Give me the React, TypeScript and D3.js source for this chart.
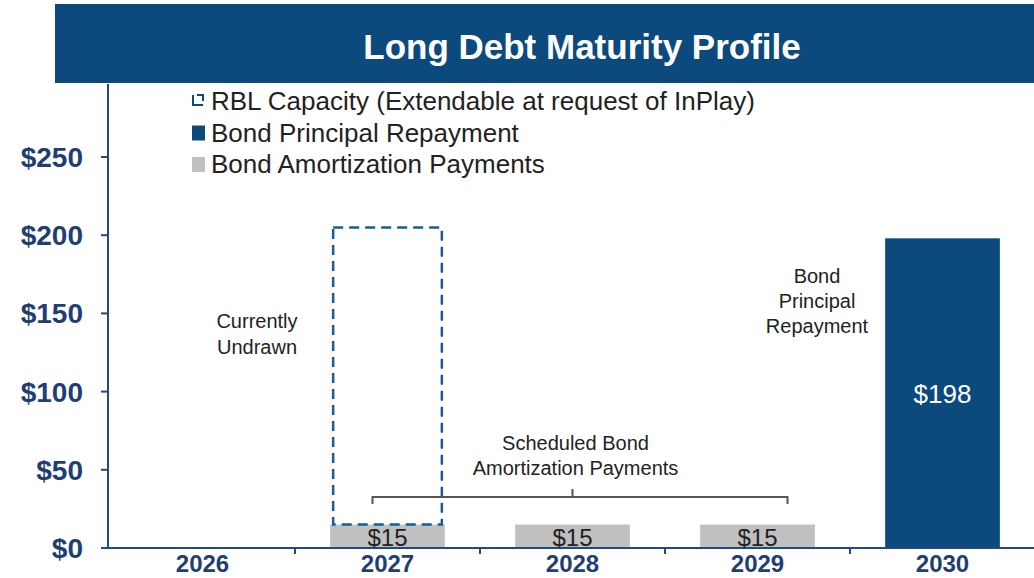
import * as d3 from "d3";

const years = ["2026", "2027", "2028", "2029", "2030"];
const amortization = [0, 15, 15, 15, 0];
const principal = [0, 0, 0, 0, 198];
const rblCapacity = [0, 190, 0, 0, 0];
const yTicks = [0, 50, 100, 150, 200, 250];
const legendItems = [
  "RBL Capacity (Extendable at request of InPlay)",
  "Bond Principal Repayment",
  "Bond Amortization Payments",
];

const W = 1034;
const H = 578;
const NAVY = "#0c4a7d";
const AXIS = "#24497f";
const GRAY = "#c0c0c0";
const FONT = "'Liberation Sans', Arial, sans-serif";

export default function App() {
  const x = d3.scaleBand<string>().domain(years).range([110, 1035])
    .paddingInner(0.38).paddingOuter(0.19);
  const y = d3.scaleLinear().domain([0, 250]).range([548, 157]);
  const bw = x.bandwidth();
  const cx = (yr: string) => (x(yr) as number) + bw / 2;
  const step = x.step();

  // bracket over the amortization years
  const bl = cx("2027") - 15;
  const br = cx("2029") + 30;
  const by = 497;
  const bm = cx("2028");

  return (
    <svg width={W} height={H} style={{ position: "absolute", left: 0, top: 0, background: "#fff" }}>
      {/* title bar */}
      <rect x={55} y={4} width={W - 55} height={79} fill={NAVY} />
      <text x={582} y={59} textAnchor="middle" fill="#fff" fontFamily={FONT}
        fontWeight="bold" fontSize={35}>Long Debt Maturity Profile</text>

      {/* legend */}
      {legendItems.map((t, i) => {
        const ly = 101 + i * 31.5;
        return (
          <g key={t}>
            {i === 0 ? (
              <path d={`M193,${ly - 6} V${ly + 4} H203 M197,${ly - 6} H203 V${ly}`}
                fill="none" stroke={NAVY} strokeWidth={2} />
            ) : (
              <rect x={192} y={ly - 7} width={13} height={15} fill={i === 1 ? NAVY : GRAY} />
            )}
            <text x={211} y={ly + 9} fontFamily={FONT} fontSize={26} fill="#222">{t}</text>
          </g>
        );
      })}

      {/* y axis */}
      <line x1={108} x2={108} y1={84} y2={549} stroke={AXIS} strokeWidth={2} />
      {yTicks.map((v) => (
        <g key={v}>
          <line x1={101} x2={108} y1={y(v)} y2={y(v)} stroke={AXIS} strokeWidth={2} />
          <text x={83} y={y(v) + 10} textAnchor="end" fontFamily={FONT} fontWeight="bold"
            fontSize={28} fill="#1f3e74">${v}</text>
        </g>
      ))}

      {/* bars */}
      {years.map((yr, i) => (
        <g key={yr}>
          {amortization[i] > 0 && (
            <rect x={x(yr)} y={y(amortization[i])} width={bw}
              height={y(0) - y(amortization[i])} fill={GRAY} />
          )}
          {principal[i] > 0 && (
            <rect x={x(yr)} y={y(principal[i])} width={bw}
              height={y(0) - y(principal[i])} fill={NAVY} />
          )}
          {rblCapacity[i] > 0 && (
            <rect x={(x(yr) as number) + 3} y={y(amortization[i] + rblCapacity[i])}
              width={bw - 6} height={y(amortization[i]) - y(amortization[i] + rblCapacity[i])}
              fill="none" stroke="#1c5b90" strokeWidth={2.5} strokeDasharray="10,6" />
          )}
        </g>
      ))}

      {/* x axis */}
      <line x1={108} x2={W} y1={548} y2={548} stroke={AXIS} strokeWidth={2} />
      {years.slice(1).map((yr) => (
        <line key={yr} x1={(x(yr) as number) - (step - bw) / 2} x2={(x(yr) as number) - (step - bw) / 2}
          y1={548} y2={554} stroke={AXIS} strokeWidth={2} />
      ))}
      {years.map((yr) => (
        <text key={yr} x={cx(yr)} y={572} textAnchor="middle" fontFamily={FONT}
          fontWeight="bold" fontSize={24} fill="#1f3e74">{yr}</text>
      ))}

      {/* value labels */}
      {years.map((yr, i) => (
        <g key={yr}>
          {amortization[i] > 0 && (
            <text x={cx(yr)} y={546} textAnchor="middle" fontFamily={FONT}
              fontSize={24} fill="#222">${amortization[i]}</text>
          )}
          {principal[i] > 0 && (
            <text x={cx(yr)} y={y(principal[i] / 2) + 10} textAnchor="middle" fontFamily={FONT}
              fontSize={26} fill="#fff">${principal[i]}</text>
          )}
        </g>
      ))}

      {/* annotations */}
      <g fontFamily={FONT} fontSize={20} fill="#222" textAnchor="middle">
        <text x={257} y={328}>Currently</text>
        <text x={257} y={354}>Undrawn</text>
        <text x={817} y={283}>Bond</text>
        <text x={817} y={308}>Principal</text>
        <text x={817} y={333}>Repayment</text>
        <text x={bm + 3} y={450}>Scheduled Bond</text>
        <text x={bm + 3} y={475}>Amortization Payments</text>
      </g>
      <path d={`M${bl},${by + 7} V${by} H${br} V${by + 7} M${bm},${by} V${by - 8}`}
        fill="none" stroke="#555" strokeWidth={2} />
    </svg>
  );
}
